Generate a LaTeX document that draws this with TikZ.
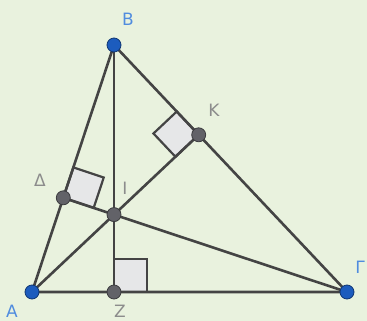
\documentclass[tikz,border=0pt]{standalone}
\usepackage{fontspec}
\setmainfont{DejaVu Sans}
\usepackage{tikz}
\usetikzlibrary{calc}
\definecolor{bgpale}{RGB}{233,242,222}
\definecolor{edgegray}{RGB}{68,68,68}
\definecolor{vertblue}{RGB}{28,92,190}
\definecolor{footgray}{RGB}{98,98,104}
\definecolor{lblblue}{RGB}{80,140,222}
\definecolor{lblgray}{RGB}{140,140,140}
\definecolor{sqfill}{RGB}{230,231,232}

\begin{document}
\begin{tikzpicture}[x=1pt, y=-1pt,
    edge/.style={draw=edgegray, line width=2.6pt},
    rightsq/.style={draw=edgegray, fill=sqfill, line width=2.2pt, line join=miter},
    vert/.style={circle, draw=vertblue!60!black, fill=vertblue, line width=0.8pt,
                 minimum size=14pt, inner sep=0pt},
    foot/.style={vert, draw=footgray!60!black, fill=footgray},
    lbl/.style={font=\fontsize{17}{17}\selectfont, inner sep=0pt},
    vlbl/.style={lbl, text=lblblue},
    flbl/.style={lbl, text=lblgray}
]
\fill[bgpale] (0,0) rectangle (367,321);
\useasboundingbox (0,0) rectangle (367,321);

% triangle and feet of the altitudes
\coordinate (A) at (32,292);
\coordinate (B) at (114,45);
\coordinate (G) at (347,292);
\coordinate (Z) at (114,292);
\coordinate (D) at (63.3,197.8);
\coordinate (K) at (198.7,134.8);
\coordinate (I) at (114,214.6);

% right-angle marks
\coordinate (Zg) at ($(Z)!33pt!(G)$);
\coordinate (Zb) at ($(Z)!33pt!(B)$);
\draw[rightsq] (Z) -- (Zg) -- ($(Zg)+(Zb)-(Z)$) -- (Zb) -- cycle;
\coordinate (Db) at ($(D)!32pt!(B)$);
\coordinate (Dg) at ($(D)!32pt!(G)$);
\draw[rightsq] (D) -- (Db) -- ($(Db)+(Dg)-(D)$) -- (Dg) -- cycle;
\coordinate (Kb) at ($(K)!32pt!(B)$);
\coordinate (Ka) at ($(K)!32pt!(A)$);
\draw[rightsq] (K) -- (Kb) -- ($(Kb)+(Ka)-(K)$) -- (Ka) -- cycle;

% sides and altitudes
\draw[edge, line join=round] (A) -- (B) -- (G) -- cycle;
\draw[edge] (B) -- (Z);
\draw[edge] (A) -- (K);
\draw[edge] (G) -- (D);

% points
\node[vert] (A-pt) at (A) {};
\node[vert] (B-pt) at (B) {};
\node[vert] (G-pt) at (G) {};
\node[foot] (Z-pt) at (Z) {};
\node[foot] (D-pt) at (D) {};
\node[foot] (K-pt) at (K) {};
\node[foot] (I-pt) at (I) {};

% labels
\node[vlbl] (A-lbl) at (12,311) {A};
\node[vlbl] (B-lbl) at (128,19) {B};
\node[vlbl] (G-lbl) at (360,267) {Γ};
\node[flbl] (Z-lbl) at (120,311) {Z};
\node[flbl] (D-lbl) at (40,180) {Δ};
\node[flbl] (K-lbl) at (214,110) {K};
\node[flbl] (I-lbl) at (125,188) {I};
\end{tikzpicture}
\end{document}
